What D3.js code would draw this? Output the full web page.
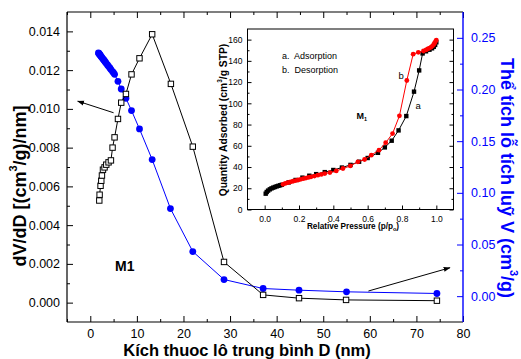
<!DOCTYPE html>
<html><head><meta charset="utf-8">
<script src="https://cdn.jsdelivr.net/npm/d3@7"></script>
<style>
body{margin:0;background:#fff;}
svg{display:block;font-family:"Liberation Sans",Arial,sans-serif;}
</style></head>
<body><svg id="c" width="521" height="359"></svg>
<script>
// ---- main chart data ----
const poreD = [1.93,2.0,2.2,2.36,2.5,2.72,3.06,3.43,3.92,4.43,4.78,5.21,5.94,6.64,7.65,8.85,10.56,13.28,17.3,22.0,28.7,37.1,44.8,54.9,74.4];
const dVdD  = [0.00527,0.00557,0.00603,0.00629,0.00656,0.00686,0.00698,0.00712,0.00724,0.00734,0.00800,0.00853,0.00948,0.01032,0.01077,0.01178,0.01261,0.01385,0.01129,0.00805,0.00210,0.00040,0.00023,0.00014,0.00010];
const cumD  = [1.75,1.85,1.93,2.0,2.1,2.2,2.36,2.5,2.72,2.9,3.06,3.25,3.43,3.7,3.92,4.2,4.43,4.78,5.0,5.21,5.94,6.64,7.65,8.85,10.56,13.28,17.2,22.0,28.7,37.1,44.8,55.0,74.4];
const cumV  = [0.2354,0.2349,0.2344,0.2340,0.2333,0.2327,0.2318,0.2309,0.2296,0.2286,0.2276,0.2264,0.2253,0.2237,0.2224,0.2208,0.2193,0.2173,0.2161,0.2147,0.2079,0.2005,0.1915,0.1796,0.1618,0.1322,0.0848,0.0432,0.0161,0.0074,0.0058,0.0042,0.0026];
const xTicks = [0,10,20,30,40,50,60,70,80];
const yLTicks = [0.000,0.002,0.004,0.006,0.008,0.010,0.012,0.014];
const yRTicks = [0.00,0.05,0.10,0.15,0.20,0.25];
// ---- inset data (isotherm) ----
const adsP = [0.006,0.012,0.02,0.03,0.04,0.05,0.06,0.07,0.08,0.09,0.10,0.14,0.18,0.22,0.26,0.30,0.35,0.40,0.45,0.50,0.55,0.60,0.66,0.70,0.74,0.78,0.825,0.87,0.90,0.92,0.94,0.96,0.975,0.985,0.993,1.0];
const adsQ = [14.9,16.5,17.8,19.0,19.9,20.6,21.2,21.8,22.3,22.8,23.3,25.5,27.8,30.0,31.8,33.3,35.2,37.2,39.5,42.0,45.0,48.5,53.4,58.5,64.8,74.5,88.0,111.0,131.0,147.0,149.0,150.5,151.8,153.2,155.0,157.5];
const desP = [1.0,0.995,0.99,0.985,0.978,0.97,0.96,0.95,0.94,0.925,0.895,0.865,0.828,0.785,0.745,0.705,0.666,0.621,0.582,0.543,0.499,0.456,0.417,0.38,0.35,0.33,0.31,0.29,0.27,0.255,0.24,0.225,0.21,0.195,0.18,0.165,0.15,0.135,0.12,0.107];
const desQ = [159.6,158.2,156.8,155.5,154.2,153.0,152.0,151.2,150.3,149.3,148.0,146.3,121.5,88.2,71.5,62.9,55.9,51.2,47.1,44.9,41.0,38.6,36.3,34.8,33.8,33.0,32.3,31.5,30.8,30.2,29.6,29.0,28.4,27.8,27.2,26.6,26.0,25.3,24.6,23.7];
const ixTicks = [0.0,0.2,0.4,0.6,0.8,1.0];
const iyTicks = [0,20,40,60,80,100,120,140,160];

const svg = d3.select("#c");
const BLUE = "#0000ff";
const x  = d3.scaleLinear([-5,80],[67,463]);
const yL = d3.scaleLinear([-0.001,0.015],[322,12]);
const yR = d3.scaleLinear([-0.025,0.275],[322,12]);

function styleAxis(g, color, fs){
  g.select(".domain").remove();
  g.selectAll("line").attr("stroke",color).attr("stroke-width",1);
  g.selectAll("text").attr("fill",color).attr("font-size",fs).attr("font-family","'Liberation Sans',Arial,sans-serif");
}
function range(a,b,s){const r=[];for(let v=a;v<=b+1e-9;v+=s)r.push(+v.toFixed(6));return r;}

// main axes
svg.append("g").attr("transform","translate(0,322)")
  .call(d3.axisBottom(x).tickValues(xTicks).tickSizeInner(-6).tickSizeOuter(0).tickPadding(7).tickFormat(d3.format("d")))
  .call(g=>styleAxis(g,"#000",12.5));
svg.append("g").attr("transform","translate(0,322)")
  .call(d3.axisBottom(x).tickValues(range(-5,75,10)).tickSizeInner(-3).tickSizeOuter(0).tickFormat(""))
  .call(g=>styleAxis(g,"#000",12));
svg.append("g").attr("transform","translate(0,12)")
  .call(d3.axisTop(x).tickValues(xTicks).tickSizeInner(-6).tickSizeOuter(0).tickFormat(""))
  .call(g=>styleAxis(g,"#000",12));
svg.append("g").attr("transform","translate(0,12)")
  .call(d3.axisTop(x).tickValues(range(-5,75,10)).tickSizeInner(-3).tickSizeOuter(0).tickFormat(""))
  .call(g=>styleAxis(g,"#000",12));
svg.append("g").attr("transform","translate(67,0)")
  .call(d3.axisLeft(yL).tickValues(yLTicks).tickSizeInner(-6).tickSizeOuter(0).tickPadding(7).tickFormat(d3.format(".3f")))
  .call(g=>styleAxis(g,"#000",12.5));
svg.append("g").attr("transform","translate(67,0)")
  .call(d3.axisLeft(yL).tickValues(range(0.001,0.013,0.002)).tickSizeInner(-3).tickSizeOuter(0).tickFormat(""))
  .call(g=>styleAxis(g,"#000",12));
svg.append("g").attr("transform","translate(463,0)")
  .call(d3.axisRight(yR).tickValues(yRTicks).tickSizeInner(-6).tickSizeOuter(0).tickPadding(8).tickFormat(d3.format(".2f")))
  .call(g=>styleAxis(g,BLUE,12.5));
svg.append("g").attr("transform","translate(463,0)")
  .call(d3.axisRight(yR).tickValues(range(0.025,0.225,0.05)).tickSizeInner(-3).tickSizeOuter(0).tickFormat(""))
  .call(g=>styleAxis(g,BLUE,12));
// frame
svg.append("line").attr("x1",67).attr("x2",463).attr("y1",12).attr("y2",12).attr("stroke","#000").attr("stroke-width",1.2);
svg.append("line").attr("x1",67).attr("x2",463).attr("y1",322).attr("y2",322).attr("stroke","#000").attr("stroke-width",1.2);
svg.append("line").attr("x1",67).attr("x2",67).attr("y1",12).attr("y2",322).attr("stroke","#000").attr("stroke-width",1.2);
svg.append("line").attr("x1",463).attr("x2",463).attr("y1",12).attr("y2",322).attr("stroke",BLUE).attr("stroke-width",1.4);

// blue cumulative volume
const cum = cumD.map((d,i)=>[d,cumV[i]]);
svg.append("path").datum(cum).attr("fill","none").attr("stroke",BLUE).attr("stroke-width",1)
  .attr("d",d3.line().x(d=>x(d[0])).y(d=>yR(d[1])));
svg.append("g").selectAll("circle").data(cum).join("circle")
  .attr("cx",d=>x(d[0])).attr("cy",d=>yR(d[1])).attr("r",3.4).attr("fill",BLUE);

// black dV/dD
const psd = poreD.map((d,i)=>[d,dVdD[i]]);
svg.append("path").datum(psd).attr("fill","none").attr("stroke","#000").attr("stroke-width",1)
  .attr("d",d3.line().x(d=>x(d[0])).y(d=>yL(d[1])));
svg.append("g").selectAll("rect").data(psd).join("rect")
  .attr("x",d=>x(d[0])-2.7).attr("y",d=>yL(d[1])-2.7).attr("width",5.4).attr("height",5.4)
  .attr("fill","#fff").attr("stroke","#000").attr("stroke-width",1);

// arrows
const defs = svg.append("defs");
defs.append("marker").attr("id","ah").attr("viewBox","0 0 10 10").attr("refX",9).attr("refY",5)
  .attr("markerWidth",7).attr("markerHeight",7).attr("orient","auto").attr("markerUnits","userSpaceOnUse")
  .append("path").attr("d","M0,1.5 L10,5 L0,8.5 Z").attr("fill","#000");
const arrows = [[[5.0,0.0098],[-2.7,0.0104]],[[59.7,0.0006],[77.2,0.0018]]];
arrows.forEach(a=>{
  svg.append("line").attr("x1",x(a[0][0])).attr("y1",yL(a[0][1])).attr("x2",x(a[1][0])).attr("y2",yL(a[1][1]))
    .attr("stroke","#000").attr("stroke-width",1).attr("marker-end","url(#ah)");
});

// M1 label
svg.append("text").attr("x",115).attr("y",271).attr("font-size",14).attr("font-weight","bold").text("M1");

// axis titles
svg.append("text").attr("transform","translate(20,186) rotate(-90)").attr("text-anchor","middle")
  .attr("dominant-baseline","central").attr("font-size",18).attr("font-weight","bold")
  .call(t=>{t.append("tspan").text("dV/dD [(cm");t.append("tspan").attr("font-size",11).attr("dy",-7).text("3");t.append("tspan").attr("dy",7).text("/g)/nm]");});
svg.append("text").attr("transform","translate(507,178) rotate(90)").attr("text-anchor","middle")
  .attr("dominant-baseline","central").attr("font-size",18).attr("font-weight","bold").attr("fill",BLUE)
  .call(t=>{t.append("tspan").text("Thể tích lỗ tích luỹ V (cm");t.append("tspan").attr("font-size",11).attr("dy",-7).text("3");t.append("tspan").attr("dy",7).text("/g)");});
svg.append("text").attr("x",247).attr("y",356).attr("text-anchor","middle").attr("font-size",16.5).attr("font-weight","bold")
  .text("Kích thuoc lô trung bình D (nm)");

// ---------------- inset ----------------
const xi = d3.scaleLinear([-0.1,1.1],[247.5,453.5]);
const yi = d3.scaleLinear([0,170],[209.5,29]);
svg.append("rect").attr("x",247.5).attr("y",29).attr("width",206).attr("height",180.5).attr("fill","#fff");
const IF = 8.5;
svg.append("g").attr("transform","translate(0,209.5)")
  .call(d3.axisBottom(xi).tickValues(ixTicks).tickSizeInner(-4).tickSizeOuter(0).tickPadding(6).tickFormat(d3.format(".1f")))
  .call(g=>styleAxis(g,"#000",IF));
svg.append("g").attr("transform","translate(0,209.5)")
  .call(d3.axisBottom(xi).tickValues(range(0.1,0.9,0.2)).tickSizeInner(-2).tickSizeOuter(0).tickFormat(""))
  .call(g=>styleAxis(g,"#000",IF));
svg.append("g").attr("transform","translate(247.5,0)")
  .call(d3.axisLeft(yi).tickValues(iyTicks).tickSizeInner(-4).tickSizeOuter(0).tickPadding(5).tickFormat(d3.format("d")))
  .call(g=>styleAxis(g,"#000",IF));
svg.append("g").attr("transform","translate(247.5,0)")
  .call(d3.axisLeft(yi).tickValues(range(10,150,20)).tickSizeInner(-2).tickSizeOuter(0).tickFormat(""))
  .call(g=>styleAxis(g,"#000",IF));
svg.append("g").attr("transform","translate(453.5,0)")
  .call(d3.axisRight(yi).tickValues(iyTicks).tickSizeInner(-4).tickSizeOuter(0).tickFormat(""))
  .call(g=>styleAxis(g,"#000",IF));
svg.append("g").attr("transform","translate(453.5,0)")
  .call(d3.axisRight(yi).tickValues(range(10,150,20)).tickSizeInner(-2).tickSizeOuter(0).tickFormat(""))
  .call(g=>styleAxis(g,"#000",IF));
svg.append("rect").attr("x",247.5).attr("y",29).attr("width",206).attr("height",180.5).attr("fill","none").attr("stroke","#000").attr("stroke-width",1);

const ads = adsP.map((p,i)=>[p,adsQ[i]]);
const des = desP.map((p,i)=>[p,desQ[i]]);
const il = d3.line().x(d=>xi(d[0])).y(d=>yi(d[1]));
svg.append("path").datum(ads).attr("fill","none").attr("stroke","#000").attr("stroke-width",1).attr("d",il);
svg.append("g").selectAll("rect").data(ads).join("rect")
  .attr("x",d=>xi(d[0])-2.2).attr("y",d=>yi(d[1])-2.2).attr("width",4.4).attr("height",4.4).attr("fill","#000");
svg.append("path").datum(des).attr("fill","none").attr("stroke","#ff0000").attr("stroke-width",1).attr("d",il);
svg.append("g").selectAll("circle").data(des).join("circle")
  .attr("cx",d=>xi(d[0])).attr("cy",d=>yi(d[1])).attr("r",2.4).attr("fill","#ff0000");

svg.append("text").attr("transform","translate(223,120) rotate(-90)").attr("text-anchor","middle")
  .attr("dominant-baseline","central").attr("font-size",10.3).attr("font-weight","bold")
  .call(t=>{t.append("tspan").text("Quantity Adsorbed (cm");t.append("tspan").attr("font-size",6.5).attr("dy",-4).text("3");t.append("tspan").attr("dy",4).text("/g STP)");});
svg.append("text").attr("x",353).attr("y",229).attr("text-anchor","middle").attr("font-size",8.2).attr("font-weight","bold")
  .call(t=>{t.append("tspan").text("Relative Pressure (p/p");t.append("tspan").attr("font-size",5.5).attr("dy",2).text("o");t.append("tspan").attr("dy",-2).text(")");});
svg.append("text").attr("x",282).attr("y",59).attr("font-size",9).style("white-space","pre").text("a.  Adsorption");
svg.append("text").attr("x",282).attr("y",72.5).attr("font-size",9).style("white-space","pre").text("b.  Desorption");
svg.append("text").attr("x",398.5).attr("y",78.5).attr("font-size",9.5).text("b");
svg.append("text").attr("x",415.5).attr("y",108.5).attr("font-size",9.5).text("a");
svg.append("text").attr("x",356.5).attr("y",119).attr("font-size",9).attr("font-weight","bold")
  .call(t=>{t.append("tspan").text("M");t.append("tspan").attr("font-size",5.5).attr("dy",2).text("1");});
</script></body></html>
